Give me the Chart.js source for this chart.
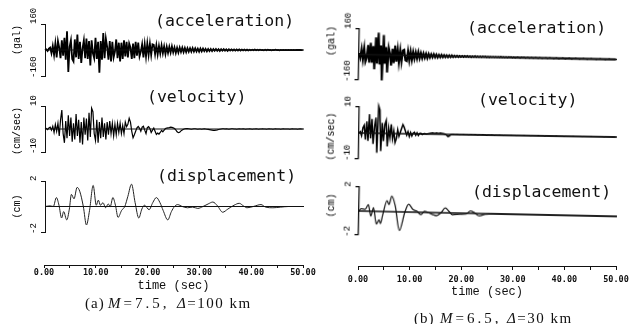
<!DOCTYPE html>
<html>
<head>
<meta charset="utf-8">
<script src="https://cdn.jsdelivr.net/npm/chart.js@4.4.0/dist/chart.umd.min.js"></script>
<style>
html, body { margin: 0; padding: 0; background: #fff; overflow: hidden; }
#fig { position: relative; width: 635px; height: 324px; overflow: hidden; }
#fig canvas { position: absolute; left: 0; top: 0; }
.lbl { position: absolute; font-family: "DejaVu Sans Mono", monospace; font-size: 16.5px; color: #111; line-height: 1; white-space: pre; }
.cap { position: absolute; font-family: "Liberation Serif", serif; font-size: 15px; color: #111; line-height: 1; white-space: pre; }
.cap i { font-style: italic; }
</style>
</head>
<body>
<div id="fig">
  <canvas id="accA" width="635" height="324"></canvas>
  <canvas id="velA" width="635" height="324"></canvas>
  <canvas id="dispA" width="635" height="324"></canvas>
  <canvas id="timeA" width="635" height="324"></canvas>
  <canvas id="accB" width="635" height="324" style="transform:rotate(1.1deg);transform-origin:358px 55px"></canvas>
  <canvas id="velB" width="635" height="324" style="transform:rotate(0.9deg);transform-origin:358px 133px"></canvas>
  <canvas id="dispB" width="635" height="324" style="transform:rotate(1.2deg);transform-origin:358px 211px"></canvas>
  <canvas id="timeB" width="635" height="324"></canvas>

  <div class="lbl" style="left:155px;top:13px">(acceleration)</div>
  <div class="lbl" style="left:147px;top:89px">(velocity)</div>
  <div class="lbl" style="left:157px;top:168px">(displacement)</div>
  <div class="lbl" style="left:467px;top:20px">(acceleration)</div>
  <div class="lbl" style="left:478px;top:92px">(velocity)</div>
  <div class="lbl" style="left:472px;top:184px">(displacement)</div>

  <div class="cap" style="left:85px;top:296px;letter-spacing:1px">(a)</div>
  <div class="cap" style="left:108px;top:296px;letter-spacing:3px"><i>M</i>=7.5,</div>
  <div class="cap" style="left:177px;top:296px;letter-spacing:1.5px"><i>Δ</i>=100 km</div>
  <div class="cap" style="left:414px;top:311px;letter-spacing:1px">(b)</div>
  <div class="cap" style="left:440px;top:311px;letter-spacing:3px"><i>M</i>=6.5,</div>
  <div class="cap" style="left:507px;top:311px;letter-spacing:1.5px"><i>Δ</i>=30 km</div>
</div>

<script>
// sampling step of the acc / vel traces (sec)
var timeStep = 0.25;

// (a) M=7.5, 100 km  -- acceleration (gal), 4 readings per second
var accelA = [
  0, 4, -6, 8,   15, -20, 25, -30,   40, -45, 55, 15,   -50, 60, -35, 75,
  -60, 115, -135, 20,   60, -55, -70, 65,   -45, 95, -55, 50,   -80, 10, 60, -50,
  70, -55, 55, -95,   60, -20, -50, 75,   -55, 50, -140, 55,   -60, 105, -50, 70,
  20, -60, 55, -70,   50, -45, -10, 65,   -50, 45, -70, 45,   -55, 60, -40, 50,
  -45, 40, 15, -55,   40, -50, 50, -35,   45, -40, -10, 35,   -45, 35, -40, 40,
  -30, 38, -30, 35,   32, -25, 30, -28,   25, -22, 28, -20,   22, -25, 20, -18,
  20, -16, 22, -15,   16, -18, 14, -15,   15, -12, 14, -13,   12, -13, 11, -10,
  11, -10, 12, -9,   10, -9, 8, -10,   9, -8, 9, -7,   7, -8, 6, -7,
  6, -7, 6, -5,   6, -5, 5, -6,   5, -4, 5, -4,   4, -5, 4, -3,
  4, -3, 3, -4,   3, -3, 4, -3,   3, -2, 3, -3,   2, -3, 2, -2,
  2, -2, 3, -2,   2, -2, 2, -1,   1, -2, 2, -2,   2, -1, 1, -2,
  1, -1, 2, -1,   1, -2, 1, -1,   1, -1, 1, -1,   1, -1, 1, -1,
  1, -1, 1, 0,   0, 1, -1, 0
];

// (b) M=6.5, 30 km  -- acceleration (gal)
var accelB = [
  10, -20, 35, -30,   40, -45, -20, 60,   -50, 75, -50, 55,   -90, 110, -55, 140,
  -60, 60, -160, 125,   -55, 50, -110, 45,   10, -65, 40, -50,   60, -40, 35, -45,
  30, -40, 30, 35,   -30, -35, 28, -30,   25, -28, 22, -20,   20, -18, 22, -16,
  16, -15, 14, -13,   12, -14, 11, -10,   10, -9, 10, -8,   8, -9, 7, -7,
  7, -6, 6, -6,   5, -6, 5, -5,   5, -4, 4, -4,   4, -4, 3, -3,
  3, -3, 3, -2,   3, -2, 2, -3,   2, -2, 3, -2,   2, -2, 2, -2,
  2, -1, 2, -2,   1, -2, 1, -1,   1, -1, 1, -1,   1, -1, 2, -1,
  1, -1, 1, -1,   1, 0, 1, -1,   1, -1, 0, 1,   0, -1, 1, 0,
  1, -1, 0, 1,   -1, 0, 1, -1,   0, 1, 0, -1,   1, 0, -1, 0,
  0, 1, -1, 0,   1, 0, 0, -1,   0, 1, 0, -1,   0, 0, 1, 0,
  -1, 0, 0, 1,   0, -1, 0, 0,   1, 0, 0, -1,   0, 0, 1, 0,
  0, -1, 0, 0,   1, 0, 0, 0,   -1, 0, 0, 1,   0, 0, 0, -1,
  0, 0, 1, 0,   0, 0, 0, 0
];

// velocity (cm/sec)
var velA = [
  0.0, 0.2, -0.3, 0.5,   0.8, -0.5, 1.2, -1.5,   2.0, -1.0, 2.5, -3.0,   4.0, 8.2, -2.0, -6.0,
  3.5, -4.0, 6.0, -3.0,   5.0, -5.5, 2.5, -4.5,   6.5, -3.0, 4.0, -6.0,   3.0, -6.7, 5.0, -2.5,
  4.5, -5.0, 7.0, -3.5,   9.0, 7.5, -2.0, -5.0,   4.0, -6.0, 3.0, -4.0,   5.0, -3.5, 2.5, -4.5,
  3.0, -2.5, 3.5, -2.0,   2.5, -3.0, 2.0, -2.5,   2.5, -1.5, 2.5, -2.0,   1.5, -2.0, 3.0, 1.0,
  2.0, 4.7, 3.0, -1.0,   -3.8, -2.5, -1.0, 0.5,   1.1, 0.3, -1.0, 0.8,   1.2, -0.5, -2.0, 0.6,
  1.0, 0.2, -1.5, -0.5,   0.4, -1.0, -2.4, -1.8,   -2.2, -1.5, -0.6, -1.2,   -0.5, 0.2, 0.4, 0.5,
  0.6, 0.8, 0.7, 0.5,   0.2, -0.4, -1.2, -1.6,   -1.4, -0.8, -0.4, -0.1,   0.1, 0.2, 0.2, 0.1,
  0.0, -0.1, 0.0, 0.1,   0.1, 0.0, -0.1, 0.0,   0.0, -0.1, 0.0, 0.1,   0.0, -0.1, -0.2, -0.3,
  -0.4, -0.5, -0.6, -0.6,   -0.5, -0.4, -0.2, -0.1,   0.0, 0.1, 0.1, 0.0,   0.1, 0.0, -0.1, 0.0,
  0.1, 0.1, 0.0, 0.0,   -0.1, 0.0, 0.1, 0.0,   0.0, 0.1, 0.0, -0.1,   0.0, 0.0, 0.1, 0.0,
  -0.1, 0.0, 0.0, 0.1,   0.0, -0.1, 0.0, 0.0,   0.1, 0.0, 0.0, -0.1,   0.0, 0.1, 0.0, 0.0,
  -0.1, 0.0, 0.1, 0.0,   0.0, 0.0, -0.1, 0.0,   0.1, 0.0, 0.0, 0.0,   0.0, -0.1, 0.0, 0.1,
  0.0, 0.0, 0.0, -0.1,   0.0, 0.1, 0.0, 0.0
];

var velB = [
  0.0, 0.5, -1.0, 2.0,   3.0, -2.5, 4.5, -3.0,   7.3, -2.0, 5.5, -4.1,   2.5, 6.0, -7.5, 10.5,
  9.0, -6.8, 4.0, -3.0,   3.5, 5.0, -5.0, 2.0,   -1.5, 3.5, -2.0, 1.0,   -3.5, -2.0, 1.5, -1.0,
  0.5, 2.0, 3.5, 2.5,   1.0, -0.5, 0.8, -1.0,   0.5, -0.8, 0.3, 0.6,   -0.5, 0.4, -0.6, 0.2,
  0.3, -0.2, 0.1, 0.2,   0.0, 0.1, 0.2, 0.3,   0.4, 0.5, 0.4, 0.3,   0.5, 0.4, 0.3, 0.5,
  0.4, 0.3, 0.2, 0.0,   -0.4, -0.8, -0.6, -0.2,   0.0, 0.1, 0.0, 0.0,   0.1, 0.0, -0.1, 0.0,
  0.0, 0.1, 0.0, 0.0,   0.0, -0.1, 0.0, 0.1,   0.0, 0.0, 0.1, 0.0,   -0.1, 0.0, 0.0, 0.0,
  0.1, 0.0, 0.0, -0.1,   0.0, 0.0, 0.0, 0.1,   0.0, -0.1, 0.0, 0.0,   0.0, 0.1, 0.0, 0.0,
  -0.1, 0.0, 0.0, 0.0,   0.0, 0.0, 0.1, 0.0,   0.0, 0.0, -0.1, 0.0,   0.0, 0.0, 0.0, 0.0,
  0.1, 0.0, 0.0, 0.0,   0.0, -0.1, 0.0, 0.0,   0.0, 0.0, 0.0, 0.1,   0.0, 0.0, 0.0, 0.0,
  -0.1, 0.0, 0.0, 0.0,   0.0, 0.0, 0.0, 0.0,   0.0, 0.1, 0.0, 0.0,   0.0, 0.0, 0.0, -0.1,
  0.0, 0.0, 0.0, 0.0,   0.0, 0.0, 0.1, 0.0,   0.0, 0.0, 0.0, 0.0,   0.0, -0.1, 0.0, 0.0,
  0.0, 0.0, 0.0, 0.0,   0.1, 0.0, 0.0, 0.0,   0.0, 0.0, 0.0, 0.0,   0.0, 0.0, -0.1, 0.0,
  0.0, 0.0, 0.0, 0.0,   0.0, 0.0, 0.0, 0.0
];

// displacement (cm), read at the turning points of the curve
var dispTimesA = [0, 1, 1.6, 2.2, 2.7, 3.2, 3.6, 4.2, 4.7, 5.1, 5.6, 6.2, 6.7, 7.4, 8.0, 8.6, 9.3, 9.9,
  10.3, 10.7, 11.2, 11.7, 12.2, 12.6, 13.1, 13.6, 14.1, 14.8, 15.4, 16.0, 16.7, 17.4, 18.1, 18.7,
  19.2, 20.1, 20.8, 21.5, 22.2, 22.8, 23.7, 24.4, 25.0, 25.6, 26.5, 27.5, 28.5, 29.5, 30.5, 31.5,
  32.4, 33.3, 34.3, 35.3, 36.5, 37.5, 38.3, 39.0, 40.2, 41.7, 42.6, 44.0, 45.5, 47.0, 50.0];
var dispA = [0, 0.05, 0, 0.7, 0.1, -0.9, -0.4, -1.05, -0.2, 0.95, 0.6, 1.5, 1.2, 0, -1.45, -0.3, 1.65, 0.1,
  0.5, 0.1, 0.3, -0.1, 0.2, 0, 0.7, 0.1, -0.85, -0.3, 0, 0.8, 1.75, 0.3, -0.9, -0.2,
  0.1, -0.25, 0.3, 0.7, 0.3, -0.3, -1.05, -0.4, 0, 0.15, 0, -0.1, -0.05, -0.15, 0, 0.2,
  0.35, 0.05, -0.45, -0.2, 0.1, 0.25, 0.05, -0.1, 0, 0.15, -0.05, -0.1, -0.05, 0, 0];

var dispTimesB = [0, 0.4, 1.2, 1.8, 2.3, 2.8, 3.4, 3.9, 4.2, 4.6, 5.4, 5.8, 6.3, 7.0, 7.9, 8.9, 9.6,
  10.5, 11.2, 12.0, 12.7, 13.4, 14.2, 15.0, 15.9, 16.7, 17.5, 18.1, 19.6, 20.8, 21.6, 22.4, 23.3,
  24.5, 26.0, 50.0];
var dispB = [0, 0.2, 0.15, 0.55, -0.4, 0.3, -1.05, -0.7, -1.0, -0.3, 0.9, 0.6, 1.3, 0.5, -1.55, 0, 0.65,
  0.2, 0.1, -0.2, 0.1, 0, -0.15, -0.25, 0, 0.4, 0.1, -0.15, -0.1, -0.05, 0.2, 0.05, -0.2,
  -0.05, 0, 0];

var accelTicks = [-160, 160];
var velTicks = [-10, 10];
var dispTicks = [-2, 2];
var timeTicks = [0, 5, 10, 15, 20, 25, 30, 35, 40, 45, 50];
var timeLabels = [0, 10, 20, 30, 40, 50];

function sampled(values) {
  return values.map(function (v, i) { return { x: i * timeStep, y: v }; });
}
function paired(times, values) {
  return times.map(function (t, i) { return { x: t, y: values[i] }; });
}

// rotated unit label and end tick labels of the vertical axis
var axisText = {
  id: 'axisText',
  afterDraw: function (chart, args, o) {
    var s = chart.scales.y, ctx = chart.ctx, x = chart.chartArea.left - 11;
    ctx.save();
    ctx.fillStyle = '#000';
    ctx.textBaseline = 'middle';
    ctx.font = '9px "Liberation Mono"';
    [[s.max, o.top, 0], [s.min, o.bottom, 2]].forEach(function (e) {
      ctx.save();
      ctx.translate(x, s.getPixelForValue(e[0]) + e[2]);
      ctx.rotate(-Math.PI / 2);
      ctx.textAlign = 'left';
      ctx.fillText(e[1], 0, 0);
      ctx.restore();
    });
    ctx.font = '10px "Liberation Mono"';
    ctx.translate(chart.chartArea.left - 28, (s.top + s.bottom) / 2 + o.shift);
    ctx.rotate(-Math.PI / 2);
    ctx.textAlign = 'center';
    ctx.fillText(o.unit, 0, 0);
    ctx.restore();
  }
};

// kind: 'acc' dense trace, 'vel' busy trace, 'disp' smooth trace
function traceChart(id, pts, ticks, area, text, kind, heavy) {
  var smooth = kind === 'disp';
  var w = kind === 'acc' ? 1.8 : (kind === 'vel' ? 1.2 : 1);
  return new Chart(document.getElementById(id), {
    type: 'line',
    data: {
      datasets: [
        { data: [{ x: 0, y: 0 }, { x: 50, y: 0 }], borderColor: '#111', borderWidth: heavy ? 1.3 : 1, pointRadius: 0 },
        { data: pts, borderColor: smooth ? '#222' : '#000', borderWidth: heavy ? w + 0.3 : w,
          pointRadius: 0, tension: smooth ? 0.4 : 0, cubicInterpolationMode: smooth ? 'monotone' : 'default', clip: false }
      ]
    },
    options: {
      responsive: false, animation: false, events: [],
      layout: { padding: { left: area[0] - 10, right: 635 - area[1], top: area[2], bottom: 324 - area[3] } },
      plugins: { legend: { display: false }, tooltip: { enabled: false }, axisText: text },
      scales: {
        x: { type: 'linear', min: 0, max: 50, display: false },
        y: {
          min: ticks[0], max: ticks[1],
          afterFit: function (s) { s.width = 10; },
          afterBuildTicks: function (s) { s.ticks = ticks.map(function (v) { return { value: v }; }); },
          ticks: { display: false },
          grid: { drawOnChartArea: false, tickLength: 4, color: '#111', lineWidth: heavy ? 1.3 : 1 },
          border: { color: '#111', width: heavy ? 1.3 : 1 }
        }
      }
    },
    plugins: [axisText]
  });
}

function timeAxis(id, area, o) {
  return new Chart(document.getElementById(id), {
    type: 'line',
    data: { datasets: [] },
    options: {
      responsive: false, animation: false, events: [],
      layout: { padding: { left: area[0], right: 635 - area[1], top: area[2] - 2, bottom: 0 } },
      plugins: { legend: { display: false }, tooltip: { enabled: false } },
      scales: {
        y: { display: false },
        x: {
          type: 'linear', min: 0, max: 50,
          afterFit: function (s) { s.height = 324 - area[2]; },
          afterBuildTicks: function (s) { s.ticks = timeTicks.map(function (v) { return { value: v }; }); },
          ticks: {
            autoSkip: false, maxRotation: 0, padding: o.pad, color: '#111',
            font: { family: 'DejaVu Sans Mono', size: 8.5, weight: 'bold' },
            callback: function (v) { return timeLabels.indexOf(v) >= 0 ? v.toFixed(2) : ''; }
          },
          grid: { drawOnChartArea: false, tickLength: o.tick, color: '#111' },
          border: { color: '#111' },
          title: { display: true, text: 'time (sec)', color: '#111',
            font: { family: 'Liberation Mono', size: 12 }, padding: { top: 0, bottom: o.titlePad } }
        }
      }
    }
  });
}

traceChart('accA', sampled(accelA), accelTicks, [45, 304, 24, 76], { unit: '(gal)', top: '160', bottom: '-160', shift: -10 }, 'acc', false);
traceChart('velA', sampled(velA), velTicks, [45, 304, 106, 152], { unit: '(cm/sec)', top: '10', bottom: '-10', shift: 2 }, 'vel', false);
traceChart('dispA', paired(dispTimesA, dispA), dispTicks, [45, 304, 181, 232], { unit: '(cm)', top: '2', bottom: '-2', shift: 0 }, 'disp', false);
timeAxis('timeA', [44, 303, 265], { pad: 0, tick: 3, titlePad: 31 });

// right panel is slightly tilted in the scan; these canvases are rotated a little
traceChart('accB', sampled(accelB), accelTicks, [359, 617, 29, 80], { unit: '(gal)', top: '160', bottom: '-160', shift: -13 }, 'acc', true);
traceChart('velB', sampled(velB), velTicks, [359, 617, 107, 159], { unit: '(cm/sec)', top: '10', bottom: '-10', shift: 4 }, 'vel', true);
traceChart('dispB', paired(dispTimesB, dispB), dispTicks, [359, 617, 187, 235], { unit: '(cm)', top: '2', bottom: '-2', shift: -5 }, 'disp', true);
timeAxis('timeB', [358, 616, 266], { pad: 5, tick: 4, titlePad: 25 });
</script>
</body>
</html>
